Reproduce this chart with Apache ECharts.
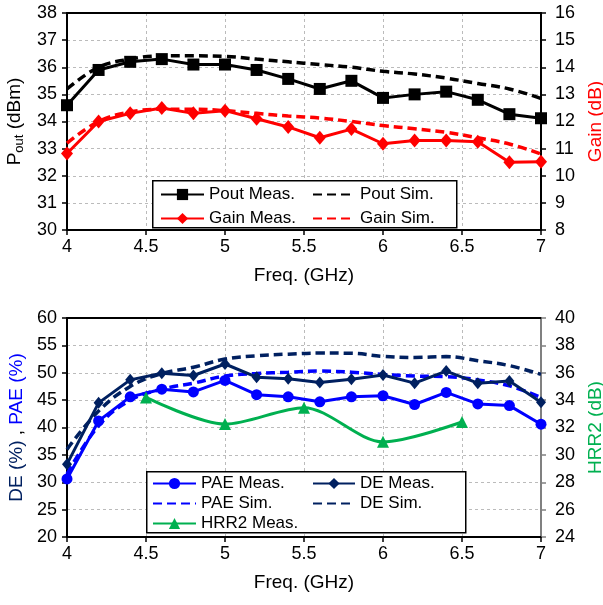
<!DOCTYPE html>
<html>
<head>
<meta charset="utf-8">
<script src="https://cdn.jsdelivr.net/npm/echarts@6/dist/echarts.min.js"></script>
<style>
html,body{margin:0;padding:0;background:#fff;}
#c{width:603px;height:605px;}
</style>
</head>
<body>
<div id="c"></div>
<script>
// ---------- data ----------
var freq = [4.0, 4.2, 4.4, 4.6, 4.8, 5.0, 5.2, 5.4, 5.6, 5.8, 6.0, 6.2, 6.4, 6.6, 6.8, 7.0];
var poutMeas = [34.6, 35.9, 36.2, 36.3, 36.1, 36.1, 35.9, 35.57, 35.2, 35.5, 34.87, 35.0, 35.1, 34.8, 34.27, 34.12];
var poutSim  = [35.2, 36.0, 36.3, 36.42, 36.42, 36.4, 36.3, 36.2, 36.1, 36.0, 35.85, 35.75, 35.6, 35.4, 35.2, 34.85];
var gainMeas = [10.82, 12.0, 12.3, 12.5, 12.3, 12.4, 12.1, 11.8, 11.4, 11.72, 11.18, 11.3, 11.3, 11.25, 10.5, 10.52];
var gainSim  = [11.2, 12.0, 12.35, 12.45, 12.45, 12.4, 12.3, 12.2, 12.13, 12.0, 11.85, 11.73, 11.6, 11.4, 11.17, 10.8];

var paeMeas = [30.6, 41.2, 45.6, 47.0, 46.5, 48.6, 46.0, 45.6, 44.7, 45.6, 45.8, 44.2, 46.4, 44.3, 44.0, 40.6];
var deMeas  = [33.3, 44.5, 48.7, 49.9, 49.5, 51.6, 49.2, 48.9, 48.2, 48.8, 49.6, 48.1, 50.3, 48.1, 48.5, 44.6];
var paeSim  = [31.5, 40.3, 45.0, 47.0, 48.1, 49.4, 49.85, 50.1, 50.3, 50.1, 49.7, 49.4, 49.3, 48.7, 47.6, 45.5];
var deSim   = [36.0, 43.0, 47.5, 49.85, 51.0, 52.5, 53.1, 53.4, 53.6, 53.55, 53.0, 52.8, 52.95, 52.2, 51.3, 49.7];
var hrrFreq = [4.5, 5.0, 5.5, 6.0, 6.5];
var hrrMeas = [34.2, 32.25, 33.45, 30.95, 32.4];

function pairs(xs, ys){ return xs.map(function(x,i){ return [x, ys[i]]; }); }

var FONT = "'Liberation Sans', Arial, sans-serif";
var BLUE = '#0000FF', NAVY = '#002060', RED = '#FF0000', GREEN = '#00B050';
var dash = [9, 5];
var NS = 19;

var chart = echarts.init(document.getElementById('c'), null, {renderer:'canvas'});

function xAx(gridIndex){
  return {
    type:'value', gridIndex:gridIndex, min:4, max:7, interval:0.5,
    name:'Freq. (GHz)', nameLocation:'middle', nameGap:36,
    nameTextStyle:{fontFamily:FONT, fontSize:NS, color:'#000'},
    axisLine:{show:true, onZero:false, lineStyle:{color:'#000', width:2}},
    axisTick:{show:true, length:5, lineStyle:{color:'#000', width:1.5}},
    axisLabel:{fontFamily:FONT, fontSize:18, color:'#000', margin:8},
    splitLine:{show:true, lineStyle:{color:'#BBBBBB', type:[3,3], width:1}}
  };
}
function topLine(gridIndex){
  return {type:'value', gridIndex:gridIndex, position:'top', min:4, max:7, interval:0.5,
    axisLine:{show:true, onZero:false, lineStyle:{color:'#000', width:2}},
    axisTick:{show:false}, axisLabel:{show:false}, splitLine:{show:false}};
}
function yAx(gridIndex, pos, min, max, interval, name, nameStyle, lineColor, split){
  return {
    type:'value', gridIndex:gridIndex, position:pos, min:min, max:max, interval:interval,
    name:name, nameLocation:'middle', nameGap: pos==='left' ? 39 : 38,
    nameTextStyle: nameStyle,
    axisLine:{show:true, onZero:false, lineStyle:{color:lineColor, width:2}},
    axisTick:{show:true, inside:false, length:5, lineStyle:{color:lineColor, width:1.5}},
    axisLabel:{fontFamily:FONT, fontSize:18, color:'#000', margin: pos==='left' ? 10 : 14},
    splitLine:{show:split, lineStyle:{color:'#BBBBBB', type:[3,3], width:1}}
  };
}
var hideSym = {opacity:0};
var legTxt = {fontFamily:FONT, fontSize:17, color:'#000'};

var option = {
  animation:false,
  backgroundColor:'#fff',
  grid:[
    {left:67, right:62, top:13, height:217, containLabel:false, outerBoundsMode:'none'},
    {left:67, right:62, top:318, height:219, containLabel:false, outerBoundsMode:'none'}
  ],
  xAxis:[ xAx(0), xAx(1), topLine(0), topLine(1) ],
  yAxis:[
    yAx(0,'left',30,38,1,'{a|P}{b|out}{a| (dBm)}',
      {fontFamily:FONT, fontSize:NS, color:'#000', rich:{
        a:{fontFamily:FONT, fontSize:NS, color:'#000', lineHeight:22},
        b:{fontFamily:FONT, fontSize:13, color:'#000', lineHeight:22, padding:[10,0,0,0]}
      }}, '#000', true),
    yAx(0,'right',8,16,1,'Gain (dB)', {fontFamily:FONT, fontSize:NS, color:RED}, '#000', false),
    yAx(1,'left',20,60,5,'{n|DE (%)}{k| , }{p|PAE (%)}',
      {fontFamily:FONT, fontSize:NS, rich:{
        n:{fontFamily:FONT, fontSize:NS, color:NAVY},
        k:{fontFamily:FONT, fontSize:NS, color:'#000'},
        p:{fontFamily:FONT, fontSize:NS, color:BLUE}
      }}, '#000', true),
    yAx(1,'right',24,40,2,'HRR2 (dB)', {fontFamily:FONT, fontSize:NS, color:GREEN}, '#808080', false)
  ],
  legend:[
    {left:160, top:186, orient:'vertical', itemWidth:43, itemHeight:14, itemGap:7, padding:0,
     textStyle:legTxt, data:['Pout Meas.','Gain Meas.']},
    {left:312, top:186, orient:'vertical', itemWidth:42, itemHeight:14, itemGap:7, padding:0,
     textStyle:legTxt, data:[{name:'Pout Sim.', itemStyle:hideSym},{name:'Gain Sim.', itemStyle:hideSym}]},
    {left:152, top:475, orient:'vertical', itemWidth:43, itemHeight:14, itemGap:3, padding:0,
     textStyle:legTxt, data:['PAE Meas.',{name:'PAE Sim.', itemStyle:hideSym},'HRR2 Meas.']},
    {left:312, top:475, orient:'vertical', itemWidth:42, itemHeight:14, itemGap:3, padding:0,
     textStyle:legTxt, data:['DE Meas.',{name:'DE Sim.', itemStyle:hideSym}]}
  ],
  graphic:[
    {type:'rect', left:152, top:180, z:3, shape:{width:304, height:47},
     style:{fill:'#fff', stroke:'#000', lineWidth:1.5}},
    {type:'rect', left:146, top:471, z:3, shape:{width:319, height:61},
     style:{fill:'#fff', stroke:'#000', lineWidth:1.5}}
  ],
  series:[
    {name:'Pout Sim.', type:'line', xAxisIndex:0, yAxisIndex:0, data:pairs(freq,poutSim), smooth:0.4,
     showSymbol:false, symbol:'none', lineStyle:{color:'#000', width:3.5, type:dash}, itemStyle:{color:'#000'}},
    {name:'Gain Sim.', type:'line', xAxisIndex:0, yAxisIndex:1, data:pairs(freq,gainSim), smooth:0.4,
     showSymbol:false, symbol:'none', lineStyle:{color:RED, width:3.5, type:dash}, itemStyle:{color:RED}},
    {name:'Pout Meas.', type:'line', xAxisIndex:0, yAxisIndex:0, data:pairs(freq,poutMeas),
     symbol:'rect', symbolSize:12, lineStyle:{color:'#000', width:3}, itemStyle:{color:'#000'}},
    {name:'Gain Meas.', type:'line', xAxisIndex:0, yAxisIndex:1, data:pairs(freq,gainMeas),
     symbol:'diamond', symbolSize:[12,14], lineStyle:{color:RED, width:3}, itemStyle:{color:RED}},

    {name:'DE Sim.', type:'line', xAxisIndex:1, yAxisIndex:2, data:pairs(freq,deSim), smooth:0.4,
     showSymbol:false, symbol:'none', lineStyle:{color:NAVY, width:3.5, type:dash}, itemStyle:{color:NAVY}},
    {name:'PAE Sim.', type:'line', xAxisIndex:1, yAxisIndex:2, data:pairs(freq,paeSim), smooth:0.4,
     showSymbol:false, symbol:'none', lineStyle:{color:BLUE, width:3.5, type:dash}, itemStyle:{color:BLUE}},
    {name:'HRR2 Meas.', type:'line', xAxisIndex:1, yAxisIndex:3, data:pairs(hrrFreq,hrrMeas), smooth:0.3,
     symbol:'triangle', symbolSize:12, lineStyle:{color:GREEN, width:3}, itemStyle:{color:GREEN}},
    {name:'DE Meas.', type:'line', xAxisIndex:1, yAxisIndex:2, data:pairs(freq,deMeas),
     symbol:'diamond', symbolSize:[10,12], lineStyle:{color:NAVY, width:3}, itemStyle:{color:NAVY}},
    {name:'PAE Meas.', type:'line', xAxisIndex:1, yAxisIndex:2, data:pairs(freq,paeMeas),
     symbol:'circle', symbolSize:11, lineStyle:{color:BLUE, width:3}, itemStyle:{color:BLUE}}
  ]
};
chart.setOption(option);
</script>
</body>
</html>
